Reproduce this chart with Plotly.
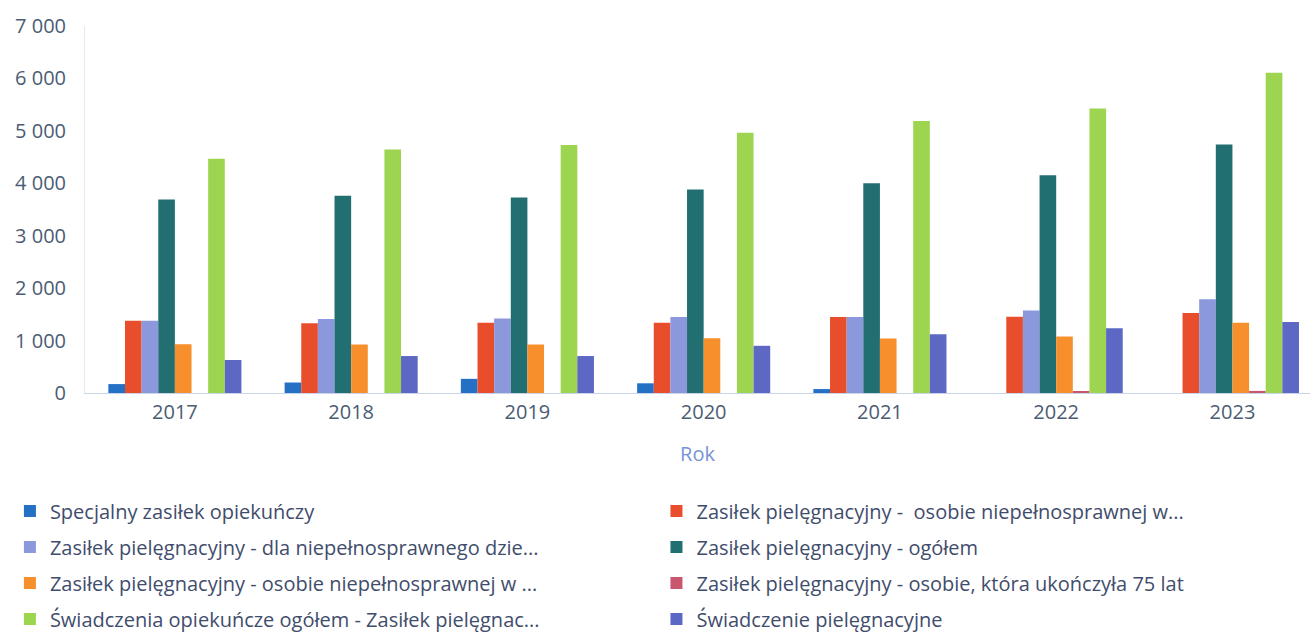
import plotly.graph_objects as go

years = ["2017", "2018", "2019", "2020", "2021", "2022", "2023"]

specjalny_zasilek = [170, 200, 270, 185, 75, 0, 0]
zp_niepelnosprawnej_w1 = [1380, 1330, 1340, 1340, 1450, 1455, 1525]
zp_dziecko = [1380, 1410, 1420, 1450, 1450, 1575, 1790]
zp_ogolem = [3690, 3760, 3730, 3880, 4000, 4155, 4740]
zp_niepelnosprawnej_w2 = [930, 925, 925, 1045, 1040, 1080, 1340]
zp_75_lat = [0, 0, 0, 0, 0, 35, 40]
swiadczenia_ogolem = [4470, 4645, 4730, 4965, 5190, 5425, 6110]
swiadczenie_pielegnacyjne = [630, 705, 705, 900, 1120, 1235, 1355]

series = [
    ("Specjalny zasiłek opiekuńczy", specjalny_zasilek, "#2470c4", "legend"),
    ("Zasiłek pielęgnacyjny -  osobie niepełnosprawnej w...", zp_niepelnosprawnej_w1, "#e94e2c", "legend2"),
    ("Zasiłek pielęgnacyjny - dla niepełnosprawnego dzie...", zp_dziecko, "#8b98dc", "legend"),
    ("Zasiłek pielęgnacyjny - ogółem", zp_ogolem, "#226f72", "legend2"),
    ("Zasiłek pielęgnacyjny - osobie niepełnosprawnej w ...", zp_niepelnosprawnej_w2, "#f78f2c", "legend"),
    ("Zasiłek pielęgnacyjny - osobie, która ukończyła 75 lat", zp_75_lat, "#c9566f", "legend2"),
    ("Świadczenia opiekuńcze ogółem - Zasiłek pielęgnac...", swiadczenia_ogolem, "#9dd450", "legend"),
    ("Świadczenie pielęgnacyjne", swiadczenie_pielegnacyjne, "#5d67c4", "legend2"),
]

fig = go.Figure()
for i, (name, values, color, leg) in enumerate(series):
    fig.add_trace(go.Bar(
        x=years, y=values, name=name,
        marker=dict(color=color, line=dict(width=0)),
        legend=leg, legendgroup=f"g{i}",
    ))

tick_font = dict(family="Open Sans", size=20, color="#4b5c74")
legend_font = dict(family="Open Sans", size=20, color="#3f4d6c")

legend_common = dict(
    orientation="v", yref="container", y=0.2235, yanchor="top",
    xref="paper", xanchor="left",
    font=legend_font, tracegroupgap=7, itemwidth=30,
    bgcolor="rgba(0,0,0,0)",
)

fig.update_layout(
    width=1310, height=633,
    margin=dict(l=85, r=0, t=26, b=240, autoexpand=False),
    paper_bgcolor="white", plot_bgcolor="white",
    barmode="group", bargap=0.245, bargroupgap=0,
    showlegend=True,
    xaxis=dict(
        type="category", range=[-0.51, 6.44],
        showgrid=False, zeroline=False,
        showline=True, linecolor="#c9d5ea", linewidth=1,
        ticks="", tickfont=tick_font, ticklabelstandoff=1,
        title=dict(text="Rok", font=dict(family="Open Sans", size=20, color="#7892d8"), standoff=22),
    ),
    yaxis=dict(
        range=[0, 7000], dtick=1000, tickformat=",d",
        showgrid=False, zeroline=False,
        showline=True, linecolor="#e3e9f4", linewidth=1,
        ticks="", tickfont=tick_font, ticklabelstandoff=14,
    ),
    separators=", ",
    legend=dict(legend_common, x=-0.0613),
    legend2=dict(legend_common, x=0.4665),
)

fig.write_html("out.html")
